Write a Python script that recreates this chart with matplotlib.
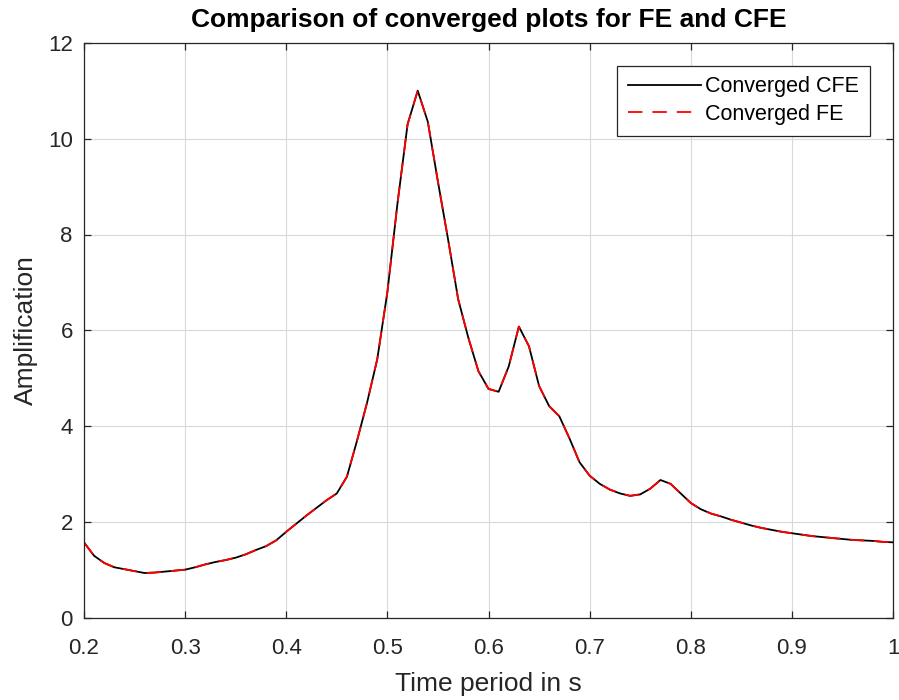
import matplotlib
matplotlib.use('Agg')
import matplotlib.pyplot as plt

plt.rcParams['font.family'] = ['Liberation Sans', 'DejaVu Sans']

# time periods sampled every 0.01 s
period = [round(0.20 + 0.01 * i, 2) for i in range(81)]

# converged amplification, CFE model
cfe_amp = [1.58, 1.30, 1.15, 1.06, 1.02, 0.98, 0.94, 0.95, 0.97, 0.99,
           1.01, 1.06, 1.12, 1.17, 1.21, 1.26, 1.33, 1.42, 1.50, 1.62,
           1.80, 1.97, 2.14, 2.30, 2.46, 2.60, 2.95, 3.70, 4.50, 5.40,
           6.80, 8.65, 10.30, 11.00, 10.35, 9.10, 7.90, 6.65, 5.85, 5.15,
           4.78, 4.72, 5.25, 6.08, 5.67, 4.84, 4.42, 4.21, 3.75, 3.25,
           2.97, 2.80, 2.68, 2.60, 2.55, 2.58, 2.70, 2.88, 2.80, 2.60,
           2.40, 2.27, 2.18, 2.12, 2.05, 1.99, 1.93, 1.88, 1.84, 1.80,
           1.77, 1.74, 1.71, 1.69, 1.67, 1.65, 1.63, 1.62, 1.61, 1.59,
           1.58]

# converged amplification, FE model
fe_amp = [1.58, 1.30, 1.15, 1.06, 1.02, 0.98, 0.94, 0.95, 0.97, 0.99,
          1.01, 1.06, 1.12, 1.17, 1.21, 1.26, 1.33, 1.42, 1.50, 1.62,
          1.80, 1.97, 2.14, 2.30, 2.46, 2.60, 2.95, 3.70, 4.50, 5.40,
          6.80, 8.65, 10.30, 11.00, 10.35, 9.10, 7.90, 6.65, 5.85, 5.15,
          4.78, 4.72, 5.25, 6.08, 5.67, 4.84, 4.42, 4.21, 3.75, 3.25,
          2.97, 2.80, 2.68, 2.60, 2.55, 2.58, 2.70, 2.88, 2.80, 2.60,
          2.40, 2.27, 2.18, 2.12, 2.05, 1.99, 1.93, 1.88, 1.84, 1.80,
          1.77, 1.74, 1.71, 1.69, 1.67, 1.65, 1.63, 1.62, 1.61, 1.59,
          1.58]

xticks = [0.2, 0.3, 0.4, 0.5, 0.6, 0.7, 0.8, 0.9, 1.0]
xticklabels = ['0.2', '0.3', '0.4', '0.5', '0.6', '0.7', '0.8', '0.9', '1']
yticks = [0, 2, 4, 6, 8, 10, 12]

fig = plt.figure(figsize=(8.99, 7.0), dpi=100)
ax = fig.add_axes([0.0934, 0.117, 0.9, 0.822])

ax.plot(period, cfe_amp, color='black', linewidth=1.3, label='Converged CFE')
ax.plot(period, fe_amp, color='red', linewidth=1.3, linestyle=(0, (8, 5.5)), label='Converged FE')

ax.set_xlim(0.2, 1.0)
ax.set_ylim(0, 12)
ax.set_xticks(xticks)
ax.set_xticklabels(xticklabels)
ax.set_yticks(yticks)

ax.grid(True, color='#d9d9d9', linewidth=0.8)
ax.set_axisbelow(True)
for s in ax.spines.values():
    s.set_color('#262626')
    s.set_linewidth(0.9)
ax.tick_params(direction='in', length=5, width=0.9, colors='#262626',
               labelsize=16, top=True, right=True)
ax.tick_params(axis='x', pad=14)
ax.tick_params(axis='y', pad=8)

ax.set_xlabel('Time period in s', fontsize=19, color='#262626', labelpad=10)
ax.set_ylabel('Amplification', fontsize=19, color='#262626', labelpad=7)
ax.set_title('Comparison of converged plots for FE and CFE', fontsize=19,
             fontweight='bold', pad=11)

leg = ax.legend(loc='upper right', bbox_to_anchor=(0.9715, 0.96), fontsize=15.5,
                fancybox=False, framealpha=1, edgecolor='#262626',
                handlelength=3.4, handletextpad=0.2, borderpad=0.5,
                labelspacing=0.3, borderaxespad=0)
leg.get_frame().set_linewidth(0.9)

fig.savefig('out.png', dpi=100)
